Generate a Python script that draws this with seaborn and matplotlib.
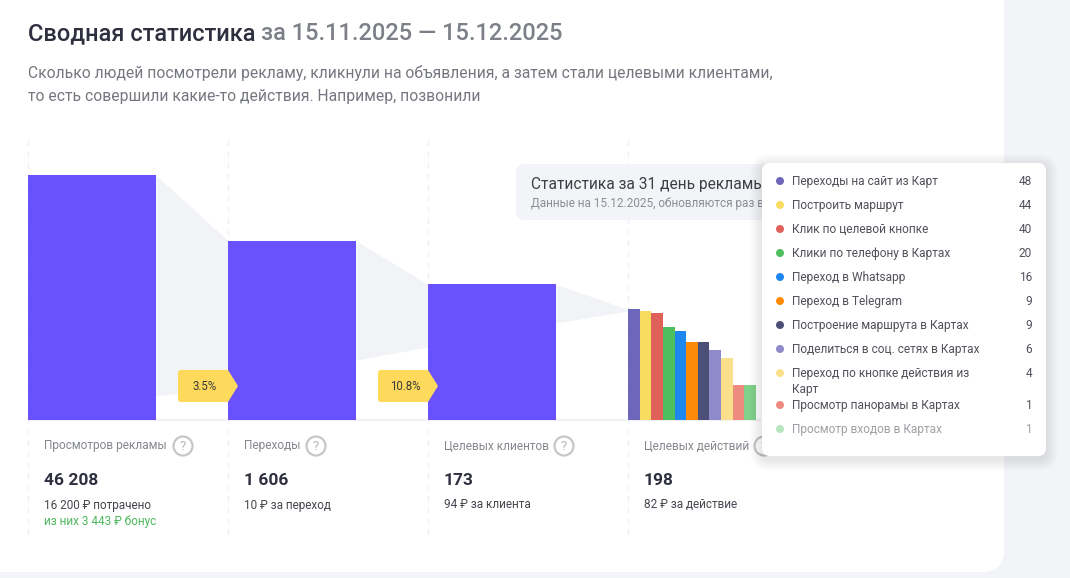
import matplotlib
matplotlib.use("Agg")
import matplotlib.pyplot as plt
from matplotlib.patches import FancyBboxPatch, Circle, Polygon
import pandas as pd
import seaborn as sns

# ---------- data ----------
funnel_labels = ["Просмотров рекламы", "Переходы", "Целевых клиентов", "Целевых действий"]
funnel_values = [46208, 1606, 173]
funnel_totals = ["46 208", "1 606", "173", "198"]
funnel_costs = ["16 200 ₽ потрачено", "10 ₽ за переход", "94 ₽ за клиента", "82 ₽ за действие"]
bonus_note = "из них 3 443 ₽ бонус"
conversion_labels = ["3.5%", "10.8%"]
action_labels = ["Переходы на сайт из Карт", "Построить маршрут", "Клик по целевой кнопке",
                 "Клики по телефону в Картах", "Переход в Whatsapp", "Переход в Telegram",
                 "Построение маршрута в Картах", "Поделиться в соц. сетях в Картах",
                 "Переход по кнопке действия из\nКарт", "Просмотр панорамы в Картах",
                 "Просмотр входов в Картах"]
action_values = [48, 44, 40, 20, 16, 9, 9, 6, 4, 1, 1]

# ---------- styles / layout ----------
action_colors = ["#6e66bb", "#f8dc60", "#e0605a", "#4fbe5e", "#1e88f0", "#ff8a0a",
                 "#4c5078", "#8f8bcb", "#fbe08c", "#ef8a80", "#7fd089"]
BAR = "#6952fe"
DARK = "#2e3040"
GREY = "#74777f"
W, H = 1070, 578
BASE, TOP = 420, 140
sns.set_theme(style="white")
plt.rcParams["font.family"] = ["Roboto", "DejaVu Sans"]

fig = plt.figure(figsize=(W / 100, H / 100), dpi=100, facecolor="#f3f4f7")

# pixel-space background layer
bg = fig.add_axes([0, 0, 1, 1], zorder=0)
bg.set_xlim(0, W); bg.set_ylim(H, 0); bg.axis("off")
bg.add_patch(FancyBboxPatch((-30, -30), 1034, 602, boxstyle="round,pad=0,rounding_size=22",
                            fc="white", ec="none"))
for x in (28, 228, 428, 628):
    bg.plot([x, x], [TOP, 537], color="#eff0f3", lw=1, ls=(0, (4, 4)))
bg.plot([28, 760], [BASE, BASE], color="#f0f2f5", lw=1.5)

# chart layer: log value axis, x in pixels
ax = fig.add_axes([0, 1 - BASE / H, 1, (BASE - TOP) / H], zorder=1)
ax.patch.set_alpha(0)
main_x = [28 + 64 + 200 * i for i in range(len(funnel_values))]
action_w = 128 / 11
action_x = [628 + action_w * (i + .5) for i in range(len(action_values))]

main_df = pd.DataFrame({"x": main_x, "v": funnel_values})
sns.barplot(data=main_df, x="x", y="v", native_scale=True, width=128 / 200, color=BAR,
            saturation=1, linewidth=0, ax=ax, zorder=3)
act_df = pd.DataFrame({"x": action_x, "v": action_values, "a": action_labels})
sns.barplot(data=act_df, x="x", y="v", hue="a", palette=action_colors, native_scale=True,
            width=1, dodge=False, saturation=1, linewidth=0, legend=False, ax=ax, zorder=3)

ax.set_yscale("log")
ax.set_xlim(0, W)
v0 = 0.1675
PX_DEC = 45.0
ax.set_ylim(v0, v0 * 10 ** ((BASE - TOP) / PX_DEC))
ax.axis("off")

def from_px(y):
    return v0 * 10 ** ((BASE - y) / PX_DEC)

# funnel ribbons between consecutive bars
tops = funnel_values + [action_values[0]]
floor_px = [(396, 386), (360, 347), (323, 311)]
for i in range(3):
    x0, x1 = 156 + 200 * i, 228 + 200 * i
    ax.fill_between([x0, x1], [from_px(floor_px[i][0]), from_px(floor_px[i][1])],
                    [tops[i], tops[i + 1]], color="#f1f3f6", lw=0, zorder=1)

# overlay layer
ov = fig.add_axes([0, 0, 1, 1], zorder=2)
ov.set_xlim(0, W); ov.set_ylim(H, 0); ov.axis("off"); ov.patch.set_alpha(0)

# heading
ov.text(28, 34, "Сводная статистика", fontsize=17, weight="medium", color=DARK, va="center")
ov.text(261, 34, "за 15.11.2025 — 15.12.2025", fontsize=17, weight="medium", color="#7d8088", va="center")
ov.text(28, 73, "Сколько людей посмотрели рекламу, кликнули на объявления, а затем стали целевыми клиентами,",
        fontsize=11.27, color=GREY, va="center")
ov.text(28, 97, "то есть совершили какие-то действия. Например, позвонили", fontsize=11.27, color=GREY, va="center")

# conversion badges
for x, s in zip((178, 378), conversion_labels):
    ov.add_patch(FancyBboxPatch((x, 370), 48, 32, boxstyle="round,pad=0,rounding_size=3",
                                fc="#fdd95c", ec="none", zorder=5))
    ov.add_patch(Polygon([(x + 44, 370), (x + 50, 370), (x + 60, 386), (x + 50, 402), (x + 44, 402)],
                         fc="#fdd95c", ec="none", zorder=5, joinstyle="round"))
    ov.text(x + 27, 386, s, fontsize=8.3, color="#3a3a3a", ha="center", va="center", zorder=6)

# columns below the chart
q_x = (183, 316, 564, 764)
for i, (lab, tot, cost) in enumerate(zip(funnel_labels, funnel_totals, funnel_costs)):
    x = 44 + 200 * i
    ov.text(x, 446, lab, fontsize=8.55, color="#85888f", va="center")
    ov.add_patch(Circle((q_x[i], 446), 9.5, fc="white", ec="#c6c7ca", lw=1.6))
    ov.text(q_x[i], 446, "?", fontsize=9.5, color="#b5b6ba", ha="center", va="center")
    ov.text(x, 480.5, tot, fontsize=12.5, weight="bold", color=DARK, va="center")
    ov.text(x, 505, cost, fontsize=8.5, color="#45474f", va="center")
ov.text(44, 521, bonus_note, fontsize=8.5, color="#4cb85c", va="center")

# notice
ov.add_patch(FancyBboxPatch((516, 164), 270, 56, boxstyle="round,pad=0,rounding_size=8",
                            fc="#f2f4f7", ec="none", zorder=3))
ov.text(531, 184, "Статистика за 31 день рекламы", fontsize=11.2, color="#3e4048", va="center", zorder=4)
ov.text(531, 204, "Данные на 15.12.2025, обновляются раз в день", fontsize=8.5, color="#8b8e95", va="center", zorder=4)

# popover with soft shadow
for g in range(12, 0, -1):
    ov.add_patch(FancyBboxPatch((762 - g, 163 - g + 3), 284 + 2 * g, 293 + 2 * g,
                                boxstyle=f"round,pad=0,rounding_size={8 + g}",
                                fc="#20243a", alpha=0.009, ec="none", zorder=7))
ov.add_patch(FancyBboxPatch((762, 163), 284, 293, boxstyle="round,pad=0,rounding_size=8",
                            fc="white", ec="none", zorder=8))
row_y = [181, 205, 229, 253, 277, 301, 325, 349, 373, 405, 429]
for i, (lab, val, c, y) in enumerate(zip(action_labels, action_values, action_colors, row_y)):
    alpha = 0.55 if i == len(row_y) - 1 else 1
    ov.add_patch(Circle((780, y), 4, fc=c, ec="none", alpha=alpha, zorder=9))
    ov.text(792, y - 6, lab, fontsize=8.55, color="#50525a", va="top", alpha=alpha, zorder=9,
            linespacing=1.35)
    ov.text(1032, y + 0.5, str(val), fontsize=8.6, color="#50525a", ha="right", va="center", alpha=alpha, zorder=9)

fig.savefig("out.png", dpi=100, facecolor=fig.get_facecolor())
